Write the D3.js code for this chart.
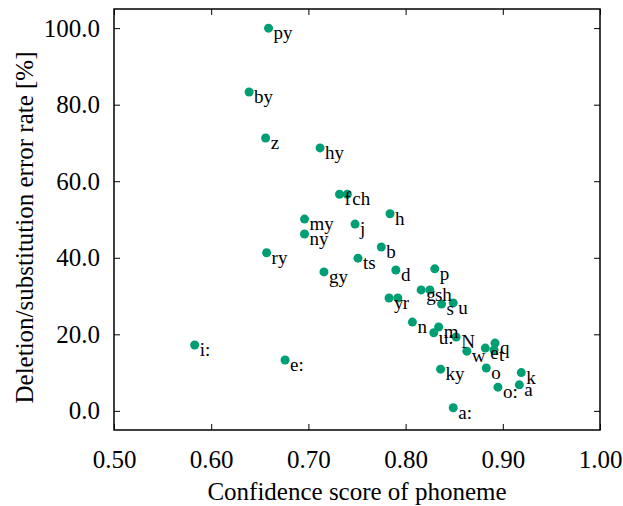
<!DOCTYPE html>
<html>
<head>
<meta charset="utf-8">
<script src="https://cdn.jsdelivr.net/npm/d3@7"></script>
<style>
  body { margin: 0; background: #fff; }
  svg text { font-family: 'Liberation Serif', 'Times New Roman', Times, 'DejaVu Serif', serif; fill: #000; }
</style>
</head>
<body>
<div id="chart"></div>
<script>
// phoneme labels, confidence scores and error rates
const phonemes = ['py', 'by', 'z', 'hy', 'f', 'ch', 'h', 'my', 'ny', 'j',
  'b', 'ry', 'ts', 'd', 'gy', 'p', 'g', 'sh', 's', 'u',
  'y', 'r', 'n', 'm', 'u:', 'N', 'w', 'e', 't', 'q',
  'ky', 'o', 'k', 'o:', 'a', 'a:', 'i:', 'e:'];
const confidence = [0.659, 0.639, 0.656, 0.712, 0.732, 0.740, 0.784, 0.696, 0.696, 0.748,
  0.775, 0.657, 0.751, 0.790, 0.716, 0.830, 0.816, 0.825, 0.837, 0.849,
  0.783, 0.792, 0.807, 0.834, 0.829, 0.852, 0.863, 0.882, 0.891, 0.892,
  0.836, 0.883, 0.919, 0.895, 0.917, 0.849, 0.583, 0.676];
const errorRate = [100.0, 83.3, 71.3, 68.7, 56.6, 56.6, 51.5, 50.1, 46.2, 48.8,
  42.8, 41.3, 39.9, 36.8, 36.3, 37.1, 31.6, 31.6, 27.9, 28.2,
  29.5, 29.5, 23.2, 21.9, 20.4, 19.3, 15.6, 16.4, 15.9, 17.7,
  10.9, 11.2, 10.0, 6.2, 6.8, 0.8, 17.2, 13.3];
const xTicks = [0.5, 0.6, 0.7, 0.8, 0.9, 1.0];
const yTicks = [0, 20, 40, 60, 80, 100];

const data = phonemes.map((p, i) => ({ label: p, x: confidence[i], y: errorRate[i] }));

const width = 623, height = 506;
const margin = { top: 9, right: 23, bottom: 76, left: 114 };
const w = width - margin.left - margin.right;
const h = height - margin.top - margin.bottom;
const serif = "'Liberation Serif', 'Times New Roman', Times, 'DejaVu Serif', serif";

const svg = d3.select('#chart').append('svg')
  .attr('width', width)
  .attr('height', height);

const g = svg.append('g')
  .attr('transform', `translate(${margin.left},${margin.top})`);

const x = d3.scaleLinear().domain([0.5, 1.0]).range([0, w]);
const y = d3.scaleLinear().domain([-5, 105]).range([h, 0]);

const tickLen = 6;

// axes with inward ticks, mirrored on top and right
const xAxis = g.append('g')
  .attr('transform', `translate(0,${h})`)
  .call(d3.axisBottom(x).tickValues(xTicks).tickSize(-tickLen).tickPadding(20).tickFormat(d3.format('.2f')));
g.append('g')
  .call(d3.axisTop(x).tickValues(xTicks).tickSize(-tickLen).tickFormat(''));
const yAxis = g.append('g')
  .call(d3.axisLeft(y).tickValues(yTicks).tickSize(-tickLen).tickPadding(14).tickFormat(d3.format('.1f')));
g.append('g')
  .attr('transform', `translate(${w},0)`)
  .call(d3.axisRight(y).tickValues(yTicks).tickSize(-tickLen).tickFormat(''));

g.selectAll('.domain').remove();
g.selectAll('g').attr('font-family', serif);
g.selectAll('.tick line').attr('stroke', '#000').attr('stroke-width', 1);
g.selectAll('.tick text')
  .style('font-family', serif)
  .style('font-size', '25px')
  .attr('fill', '#000');
xAxis.selectAll('.tick text').attr('dy', '0.71em');

// frame
g.append('rect')
  .attr('width', w)
  .attr('height', h)
  .attr('fill', 'none')
  .attr('stroke', '#000')
  .attr('stroke-width', 1.5);

// points
g.append('g').selectAll('circle')
  .data(data)
  .join('circle')
  .attr('cx', d => x(d.x))
  .attr('cy', d => y(d.y))
  .attr('r', 4.5)
  .attr('fill', '#009e73');

// labels
g.append('g').selectAll('text')
  .data(data)
  .join('text')
  .attr('x', d => x(d.x) + 5)
  .attr('y', d => y(d.y) + 11)
  .style('font-family', serif)
  .style('font-size', '19px')
  .text(d => d.label);

// axis titles
svg.append('text')
  .attr('x', margin.left + w / 2)
  .attr('y', 500)
  .attr('text-anchor', 'middle')
  .style('font-family', serif)
  .style('font-size', '25px')
  .text('Confidence score of phoneme');

svg.append('text')
  .attr('transform', `translate(33,${margin.top + h / 2 + 8}) rotate(-90)`)
  .attr('text-anchor', 'middle')
  .style('font-family', serif)
  .style('font-size', '25px')
  .text('Deletion/substitution error rate [%]');
</script>
</body>
</html>
